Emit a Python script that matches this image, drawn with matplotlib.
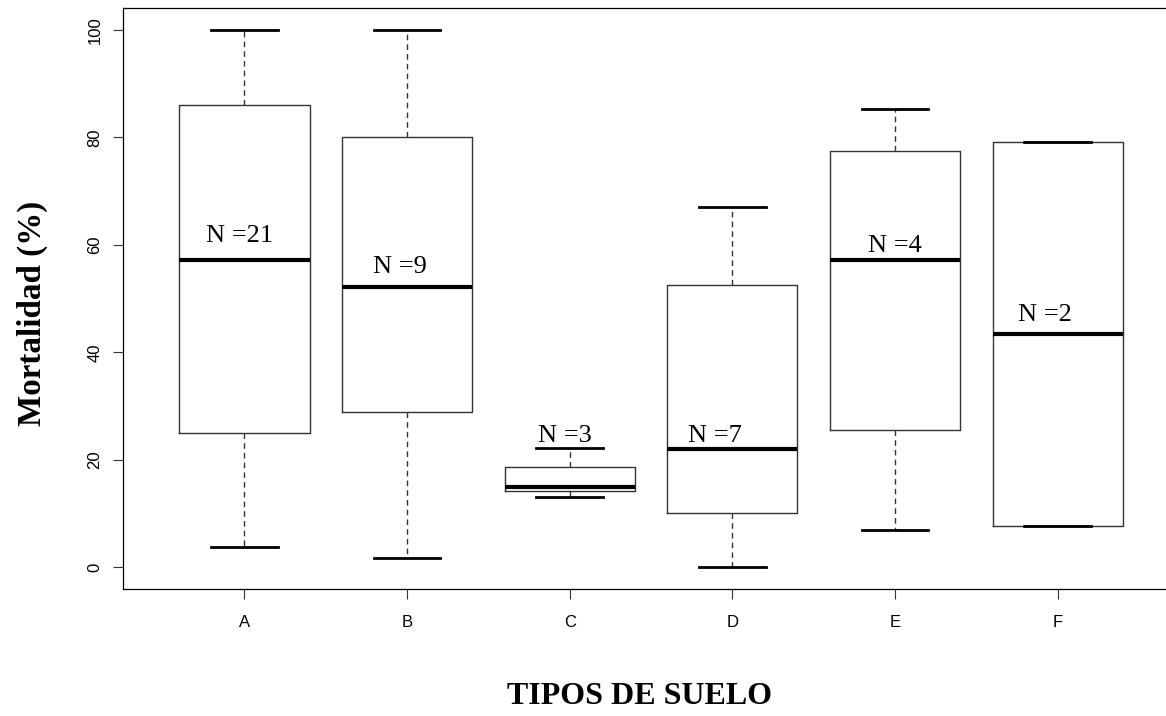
import matplotlib
matplotlib.use("Agg")
import matplotlib.pyplot as plt

# datos (mortalidad %)
suelos = ["A", "B", "C", "D", "E", "F"]
n_obs = [21, 9, 3, 7, 4, 2]
wmax = [100, 100, 22.2, 67, 85.2, 79.2]
q3 = [86, 80, 18.6, 52.5, 77.5, 79.2]
mediana = [57.1, 52.1, 15.0, 22.1, 57.1, 43.4]
q1 = [25.1, 29, 14.2, 10.1, 25.5, 7.8]
wmin = [3.9, 1.8, 13.2, 0, 7.0, 7.8]

# ajuste fino de las etiquetas N (estilo, unidades de datos)
label_dx = [-0.03, -0.045, -0.03, -0.11, 0.0, -0.077]
label_dy = [3.4, 2.6, 1.2, 1.3, 1.6, 2.4]

W, H = 1166, 716
fig = plt.figure(figsize=(W / 100, H / 100), dpi=100)
ax = fig.add_axes([123.3 / W, (H - 589) / H, 1054.8 / W, (589 - 8.3) / H])

stats = []
for i in range(len(suelos)):
    stats.append({"label": suelos[i], "whislo": wmin[i], "q1": q1[i],
                  "med": mediana[i], "q3": q3[i], "whishi": wmax[i]})

ax.bxp(stats, positions=range(1, 7), widths=0.8, capwidths=0.41,
       showfliers=False, patch_artist=False,
       boxprops=dict(color="#333333", linewidth=1.0),
       whiskerprops=dict(color="#333333", linewidth=1.0, linestyle=(0, (4, 3))),
       capprops=dict(color="black", linewidth=2.0),
       medianprops=dict(color="black", linewidth=3.0, solid_capstyle="butt"))

# etiquetas N: sobre la mediana, o sobre el bigote si la caja es estrecha
for i in range(len(suelos)):
    if q3[i] - q1[i] < 10:
        ybase = wmax[i]
    else:
        ybase = mediana[i]
    ax.text(i + 1 + label_dx[i], ybase + label_dy[i], "N =%d" % n_obs[i],
            ha="center", va="baseline", fontsize=19,
            family="Liberation Serif")

ax.set_xlim(0.255, 6.74)
ax.set_ylim(-4, 104)
ax.set_yticks([0, 20, 40, 60, 80, 100])
ax.set_xticks(range(1, 7))
ax.set_xticklabels(suelos)
for lab in ax.get_yticklabels():
    lab.set_rotation(90)
    lab.set_va("center")
ax.tick_params(axis="both", direction="out", length=7.5, width=0.8,
               labelsize=12, color="#333333")
ax.tick_params(axis="x", pad=11)
ax.tick_params(axis="y", pad=7.5)
for lab in ax.get_xticklabels() + ax.get_yticklabels():
    lab.set_family("Liberation Sans")
for s in ax.spines.values():
    s.set_linewidth(0.9)

fig.text(32.5 / W, 1 - 313 / H, "Mortalidad (%)", rotation=90,
         ha="center", va="center", fontsize=23.8, fontweight="bold",
         family="Liberation Serif")
fig.text(640 / W, 1 - 697 / H, "TIPOS DE SUELO",
         ha="center", va="center", fontsize=23, fontweight="bold",
         family="Liberation Serif")

fig.savefig("out.png", dpi=100)
